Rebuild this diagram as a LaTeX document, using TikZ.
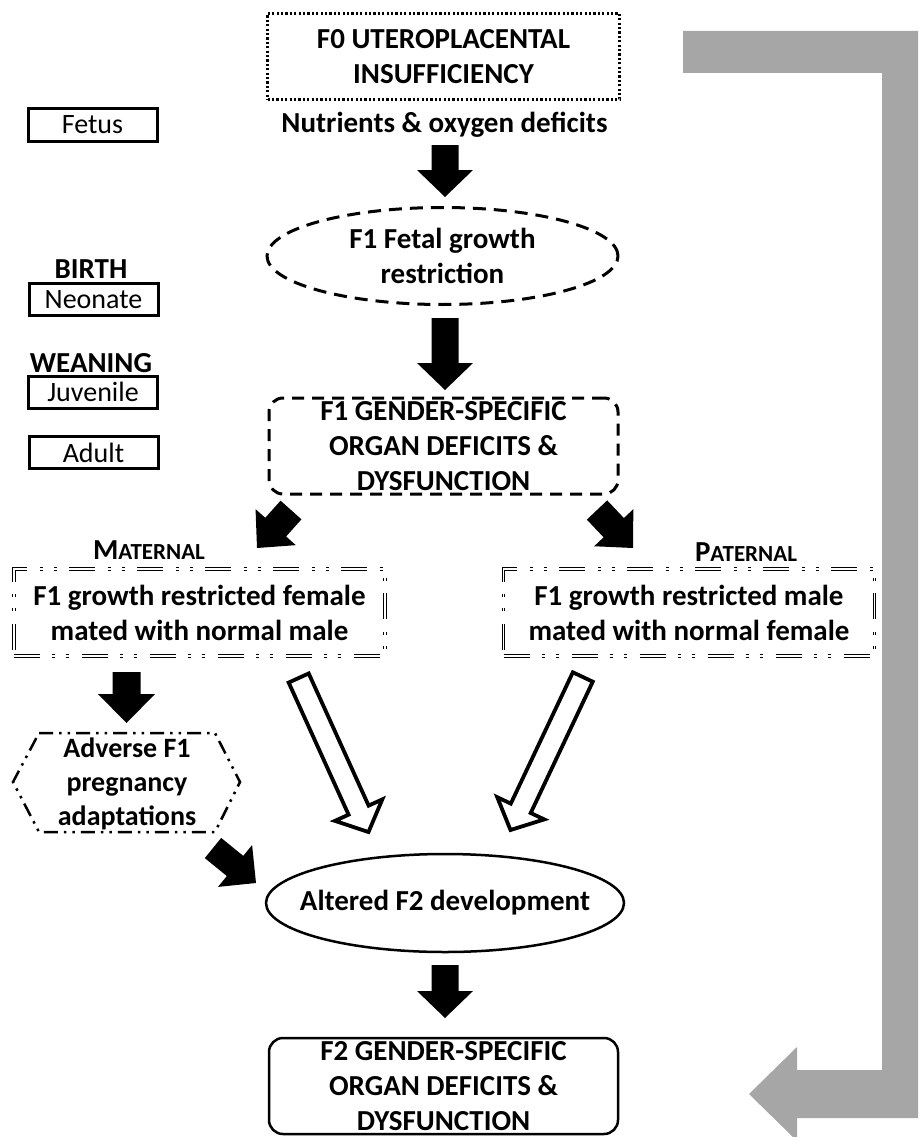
\documentclass[tikz,border=0pt]{standalone}
\usepackage{fontspec}
\setmainfont{Carlito}
\usetikzlibrary{calc,shapes.geometric}
\definecolor{greyarrow}{HTML}{A6A6A6}
% #1 style, #2 start, #3 end, #4 shaft half width, #5 head half width, #6 head length
\newcommand\blockarrow[6]{%
  \coordinate (hb) at ($(#3)!#6!(#2)$);
  \path[#1] ($(#2)!#4!90:(#3)$) -- ($(hb)!#4!90:(#3)$) -- ($(hb)!#5!90:(#3)$) -- (#3)
     -- ($(hb)!#5!-90:(#3)$) -- ($(hb)!#4!-90:(#3)$) -- ($(#2)!#4!-90:(#3)$) -- cycle;}
\begin{document}
\begin{tikzpicture}[x=1pt,y=-1pt,
  txt/.style={font=\fontsize{29}{35}\selectfont\bfseries, align=center, inner sep=0pt},
  lbl/.style={font=\fontsize{28}{34}\selectfont, draw, line width=3pt, minimum width=129pt, minimum height=32pt, inner sep=0pt},
  stage/.style={font=\fontsize{29}{35}\selectfont\bfseries, inner sep=0pt},
  dotbox/.style={draw, line width=2.2pt, dash pattern=on 2.2pt off 2.2pt, minimum width=352pt, minimum height=86pt, inner sep=0pt},
  dashell/.style={draw, ellipse, line width=3pt, dash pattern=on 13pt off 8pt, minimum width=351pt, minimum height=97pt, inner sep=0pt},
  dashbox/.style={draw, rounded corners=14pt, line width=3pt, dash pattern=on 12pt off 8pt, minimum width=349pt, minimum height=96pt, inner sep=0pt},
  dblbox/.style={draw, double, line width=0.9pt, double distance=1.3pt, dash pattern=on 26pt off 12pt on 3pt off 11pt on 3pt off 13pt, minimum width=371pt, minimum height=87pt, inner sep=0pt},
  hexdash/.style={draw, line width=2.5pt, dash pattern=on 14pt off 6pt on 2.5pt off 6pt on 2.5pt off 6pt},
  solidell/.style={draw, ellipse, line width=2.5pt, minimum width=358pt, minimum height=98pt, inner sep=0pt},
  solidbox/.style={draw, rounded corners=14pt, line width=2.5pt, minimum width=349pt, minimum height=96pt, inner sep=0pt},
  solidarr/.style={fill=black},
  hollowarr/.style={draw, fill=white, line width=3.8pt, line join=miter}
]
\useasboundingbox (0,0) rectangle (918,1137);
\fill[white] (0,0) rectangle (918,1137);

% grey feedback arrow
\fill[greyarrow] (683,31) -- (918,31) -- (918,1118) -- (797,1118) -- (797,1137) -- (793,1137)
  -- (749,1094) -- (797,1047) -- (797,1070) -- (882,1070) -- (882,73) -- (683,73) -- cycle;

% left stage labels
\node[lbl] (fetus) at (92.5,125) {Fetus};
\node[stage] (birth) at (91,269) {BIRTH};
\node[lbl] (neonate) at (93.5,299.5) {Neonate};
\node[stage] (weaning) at (91,363) {WEANING};
\node[lbl] (juvenile) at (93,392) {Juvenile};
\node[lbl] (adult) at (93.5,452.5) {Adult};

% main nodes
\node[dotbox, txt] (f0) at (443.5,56.5) {F0 UTEROPLACENTAL\\INSUFFICIENCY};
\node[txt] (nutr) at (444.5,125) {Nutrients \& oxygen deficits};
\node[dashell] (fgr) at (442.5,256) {};
\node[txt] (fgrtxt) at (fgr) {F1 Fetal growth\\restriction};
\node[dashbox, txt] (f1org) at (443.5,446) {F1 GENDER-SPECIFIC\\ORGAN DEFICITS \&\\DYSFUNCTION};
\node[stage] (matlbl) at (149,550) {M{\fontsize{23}{28}\selectfont ATERNAL}};
\node[stage] (patlbl) at (746,552) {P{\fontsize{23}{28}\selectfont ATERNAL}};
\node[dblbox, txt] (mat) at (199.5,612.5) {F1 growth restricted female\\mated with normal male};
\node[dblbox, txt] (pat) at (689,612.5) {F1 growth restricted male\\mated with normal female};
\node[txt, font=\fontsize{28}{34}\selectfont\bfseries] (adv) at (127,784) {Adverse F1\\pregnancy\\adaptations};
\draw[hexdash] ($(adv)+(-88,-51)$) -- ($(adv)+(88,-51)$) -- ($(adv)+(113,-2)$) -- ($(adv)+(88,48)$)
  -- ($(adv)+(-88,48)$) -- ($(adv)+(-114,-2)$) -- cycle;
\node[solidell] (f2dev) at (445,903) {};
\node[txt] (f2devtxt) at (f2dev) {Altered F2 development};
\node[solidbox, txt] (f2org) at (443.5,1086) {F2 GENDER-SPECIFIC\\ORGAN DEFICITS \&\\DYSFUNCTION};

% arrow end points
\coordinate (a1s) at (445,145);  \coordinate (a1e) at (445,197);
\coordinate (a2s) at (445,318);  \coordinate (a2e) at (445,390);
\coordinate (a3s) at (291,510);  \coordinate (a3e) at (257,548);
\coordinate (a4s) at (597,510);  \coordinate (a4e) at (633,548);
\coordinate (a5s) at (126.5,672);\coordinate (a5e) at (126.5,723);
\coordinate (a6s) at (213,848);  \coordinate (a6e) at (256,883);
\coordinate (a7s) at (445,965);  \coordinate (a7e) at (445,1018);
\coordinate (h1s) at (298.7,678);\coordinate (h1e) at (368.5,832);
\coordinate (h2s) at (582.8,677);\coordinate (h2e) at (510.5,830);

% black block arrows
\blockarrow{solidarr}{a1s}{a1e}{13.5pt}{28pt}{27pt}
\blockarrow{solidarr}{a2s}{a2e}{13.5pt}{28pt}{27pt}
\blockarrow{solidarr}{a3s}{a3e}{14pt}{27pt}{28pt}
\blockarrow{solidarr}{a4s}{a4e}{14pt}{27pt}{28pt}
\blockarrow{solidarr}{a5s}{a5e}{14pt}{28.5pt}{29pt}
\blockarrow{solidarr}{a6s}{a6e}{13pt}{27pt}{27pt}
\blockarrow{solidarr}{a7s}{a7e}{13.5pt}{28pt}{27pt}
% hollow block arrows
\blockarrow{hollowarr}{h1s}{h1e}{11pt}{26pt}{24pt}
\blockarrow{hollowarr}{h2s}{h2e}{11pt}{26pt}{24pt}
\end{tikzpicture}
\end{document}
